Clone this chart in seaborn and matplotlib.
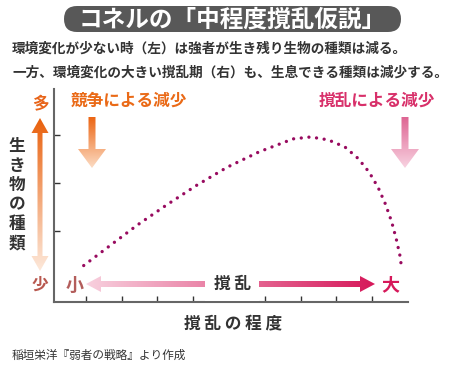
import numpy as np
import pandas as pd
import matplotlib
matplotlib.use("Agg")
import matplotlib.pyplot as plt
import seaborn as sns
from matplotlib.colors import LinearSegmentedColormap
from matplotlib.patches import Polygon, FancyBboxPatch

# curve (x: disturbance level, y: number of species)
disturbance = [-0.06, 0.63, 1.43, 2.25, 3.09, 3.95, 4.84, 5.79, 6.28, 6.77,
               7.24, 7.61, 7.92, 8.17, 8.37, 8.54, 8.67, 8.78, 8.82]
species = [0.76, 1.15, 1.60, 2.02, 2.43, 2.81, 3.13, 3.40, 3.44, 3.38,
           3.23, 2.99, 2.70, 2.38, 2.04, 1.68, 1.32, 0.95, 0.71]
x_ticks = [0, 1, 2, 3, 4, 5, 6, 7, 8]
y_ticks = [1.48, 2.48, 3.48]

title = "コネルの「中程度撹乱仮説」"
lines = ["環境変化が少ない時（左）は強者が生き残り生物の種類は減る。",
         "一方、環境変化の大きい撹乱期（右）も、生息できる種類は減少する。"]
source = "稲垣栄洋『弱者の戦略』より作成"

sns.set_style("white")
plt.rcParams["font.family"] = ["Noto Sans CJK JP", "DejaVu Sans"]

df = pd.DataFrame({"x": disturbance, "y": species})

fig = plt.figure(figsize=(4.5, 3.7), dpi=100)
ax = fig.add_axes([54 / 450, 1 - 302 / 370, (408 - 54) / 450, (302 - 89) / 370])
sns.lineplot(data=df, x="x", y="y", ax=ax, sort=False, color="#980b5f",
             linewidth=2.4, linestyle=(0, (0.01, 2.3)), dash_capstyle="round")
ax.set_xlim(-0.89, 9.0)
ax.set_ylim(0, 4.44)
ax.set_xticks(x_ticks)
ax.set_yticks(y_ticks)
ax.set_xticklabels([])
ax.set_yticklabels([])
ax.set_xlabel("")
ax.set_ylabel("")
ax.tick_params(direction="in", length=4, width=1, colors="#333333",
               left=True, bottom=True)
for s in ["top", "right"]:
    ax.spines[s].set_visible(False)
for s in ["left", "bottom"]:
    ax.spines[s].set_color("#666666")
    ax.spines[s].set_linewidth(1.5)

# overlay in pixel coordinates for the annotations
ov = fig.add_axes([0, 0, 1, 1])
ov.set_axis_off()


def grad_arrow(x0, y0, x1, y1, w, hw, hl, c0, c1, double=False):
    p0 = np.array([x0, y0], float)
    p1 = np.array([x1, y1], float)
    d = (p1 - p0) / np.linalg.norm(p1 - p0)
    n = np.array([-d[1], d[0]])
    if double:
        outline = [p0 + d * hl + n * w / 2, p1 - d * hl + n * w / 2,
                   p1 - d * hl + n * hw / 2, p1, p1 - d * hl - n * hw / 2,
                   p1 - d * hl - n * w / 2, p0 + d * hl - n * w / 2,
                   p0 + d * hl - n * hw / 2, p0, p0 + d * hl + n * hw / 2]
    else:
        outline = [p0 + n * w / 2, p1 - d * hl + n * w / 2,
                   p1 - d * hl + n * hw / 2, p1, p1 - d * hl - n * hw / 2,
                   p1 - d * hl - n * w / 2, p0 - n * w / 2]
    poly = Polygon(outline, closed=True, facecolor="none", edgecolor="none")
    ov.add_patch(poly)
    cmap = LinearSegmentedColormap.from_list("g", [c0, c1])
    ramp = np.linspace(0, 1, 256)
    if abs(d[1]) > abs(d[0]):
        img = ov.imshow(ramp.reshape(-1, 1), cmap=cmap, aspect="auto",
                        origin="upper", interpolation="bilinear",
                        extent=(x0 - hw, x0 + hw, y1, y0))
    else:
        img = ov.imshow(ramp.reshape(1, -1), cmap=cmap, aspect="auto",
                        origin="upper", interpolation="bilinear",
                        extent=(x0, x1, y0 + hw, y0 - hw))
    img.set_clip_path(poly)


grad_arrow(40, 118, 40, 271, 5, 17, 15, "#e9600c", "#fde9db", double=True)
grad_arrow(92, 117, 92, 168, 7, 28, 19, "#ec6513", "#fcdcc4")
grad_arrow(405, 117, 405, 168, 7, 28, 19, "#de6593", "#f8d3e1")
grad_arrow(86, 284, 375, 284, 6, 16, 15, "#f8d0de", "#d6185a", double=True)

ov.set_xlim(0, 450)
ov.set_ylim(370, 0)

# title box
box = FancyBboxPatch((64, 6), 337, 26, boxstyle="round,pad=0,rounding_size=13",
                     facecolor="#585858", edgecolor="none")
ov.add_patch(box)
ov.text(232, 19, title, color="white", fontsize=17, fontweight="bold",
        ha="center", va="center")
ov.text(12, 49, lines[0], color="#333333", fontsize=9.8, fontweight="bold",
        ha="left", va="center")
ov.text(12, 73, lines[1], color="#333333", fontsize=9.8, fontweight="bold",
        ha="left", va="center")

ov.text(40, 103, "多", color="#e8651a", fontsize=12, fontweight="bold",
        ha="center", va="center")
ov.text(40, 285, "少", color="#b8584f", fontsize=12, fontweight="bold",
        ha="center", va="center")
ov.text(17, 195, "\n".join("生き物の種類"), color="#333333", fontsize=12,
        fontweight="bold", ha="center", va="center", linespacing=1.1)

ov.text(129, 101, "競争による減少", color="#ea6a17", fontsize=12,
        fontweight="bold", ha="center", va="center")
ov.text(377, 101, "撹乱による減少", color="#d8306a", fontsize=12,
        fontweight="bold", ha="center", va="center")

ov.text(75, 285, "小", color="#b35d5b", fontsize=13, fontweight="bold",
        ha="center", va="center")
ov.text(390, 285, "大", color="#d6185a", fontsize=13, fontweight="bold",
        ha="center", va="center")
ov.text(232, 284, "撹 乱", color="#333333", fontsize=12, fontweight="bold",
        ha="center", va="center",
        bbox=dict(facecolor="white", edgecolor="none", pad=6))

ov.text(233, 323, "撹 乱 の 程 度", color="#333333", fontsize=12,
        fontweight="bold", ha="center", va="center")
ov.text(12, 355, source, color="#333333", fontsize=8.4, ha="left", va="center")

fig.savefig("out.png", dpi=100, facecolor="white")
